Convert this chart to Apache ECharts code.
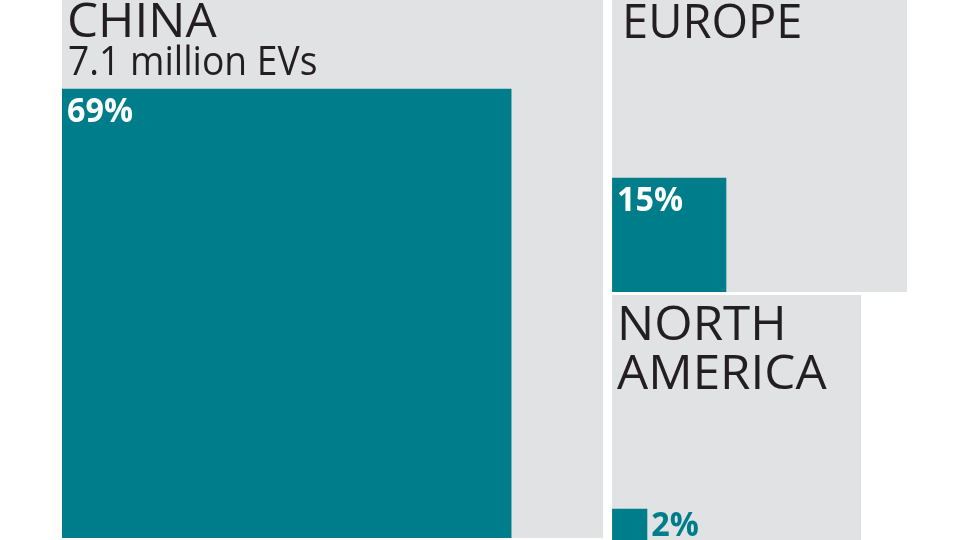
<!DOCTYPE html>
<html>
<head>
<meta charset="utf-8">
<script src="https://cdn.jsdelivr.net/npm/echarts@6/dist/echarts.min.js"></script>
<style>
html,body{margin:0;padding:0;background:#fff;}
#chart{width:960px;height:540px;}
</style>
</head>
<body>
<div id="chart"></div>
<script>
// ---- data ----
const regions = ['CHINA', 'EUROPE', 'NORTH\nAMERICA'];
const subtitles = ['7.1 million EVs', '', ''];
// grey square area (relative market size, millions)
const marketSize = [10.3, 3.06, 2.18];
// EV share shown as the teal square (percent of grey area)
const evShare = [69, 15, 2];

// ---- styling / layout constants ----
const GREY = '#e1e2e4';
const TEAL = '#007d8a';
const INK = '#231f20';
const PX_PER_UNIT = 168.6;   // axis units per sqrt(million)
const FONT = '"Open Sans", "Noto Sans", sans-serif';
const HEAD_FS = 47, HEAD_LH = 48.5;
const labelDx = [5, 10, 5];
const labelDy = [2.5, 3, 7.5];
const headScale = [1.05, 1.0, 1.05];

const chart = echarts.init(document.getElementById('chart'));

function layout(i, sides) {
  // top-left corner of each grey square, in axis units
  if (i === 0) return [62, -3];
  if (i === 1) return [62 + sides[0] + 9, -3];
  return [62 + sides[0] + 9, -3 + sides[1] + 3];
}

const sides = marketSize.map(v => Math.sqrt(v) * PX_PER_UNIT);

chart.setOption({
  animation: false,
  grid: {left: 0, right: 0, top: 0, bottom: 0},
  xAxis: {type: 'value', min: 0, max: 960, show: false},
  yAxis: {type: 'value', min: 0, max: 540, inverse: true, show: false},
  series: [{
    type: 'custom',
    clip: false,
    data: regions.map((r, i) => [i, marketSize[i], evShare[i]]),
    renderItem: function (params, api) {
      const i = api.value(0);
      const total = api.value(1);
      const share = api.value(2);
      const side = Math.sqrt(total) * PX_PER_UNIT;
      const tSide = Math.sqrt(total * share / 100) * PX_PER_UNIT;
      const tl = layout(i, sides);
      const p0 = api.coord([tl[0], tl[1]]);
      const p1 = api.coord([tl[0] + side, tl[1] + side]);
      const w = p1[0] - p0[0], h = p1[1] - p0[1];
      const t0 = api.coord([tl[0], tl[1] + side - tSide]);
      const t1 = api.coord([tl[0] + tSide, tl[1] + side]);
      const children = [
        {type: 'rect', shape: {x: p0[0], y: p0[1], width: w, height: h}, style: {fill: GREY}},
        {type: 'rect', shape: {x: t0[0], y: t0[1], width: t1[0] - t0[0], height: t1[1] - t0[1]}, style: {fill: TEAL}},
        {type: 'text', x: p0[0] + labelDx[i], y: p0[1] + labelDy[i], scaleX: headScale[i],
          style: {text: regions[i], x: 0, y: 0, fill: INK,
          font: '400 ' + HEAD_FS + 'px ' + FONT, lineHeight: HEAD_LH, verticalAlign: 'top'}}
      ];
      if (subtitles[i]) {
        children.push({type: 'text', x: p0[0] + 6, y: p0[1] + 47, scaleX: 0.93,
          style: {text: subtitles[i], x: 0, y: 0, fill: INK,
          font: '400 40px ' + FONT, lineHeight: 40, verticalAlign: 'top'}});
      }
      const inside = (t1[0] - t0[0]) > 80;
      children.push({type: 'text',
        x: inside ? t0[0] + 5 : t1[0] + 4,
        y: inside ? t0[1] + 6.5 : t0[1] + 0.5,
        scaleX: 0.95,
        style: {
        text: share + '%', x: 0, y: 0,
        fill: inside ? '#ffffff' : TEAL,
        font: '700 34px ' + FONT, lineHeight: 34, verticalAlign: 'top'}});
      return {type: 'group', children: children};
    }
  }]
});
</script>
</body>
</html>
